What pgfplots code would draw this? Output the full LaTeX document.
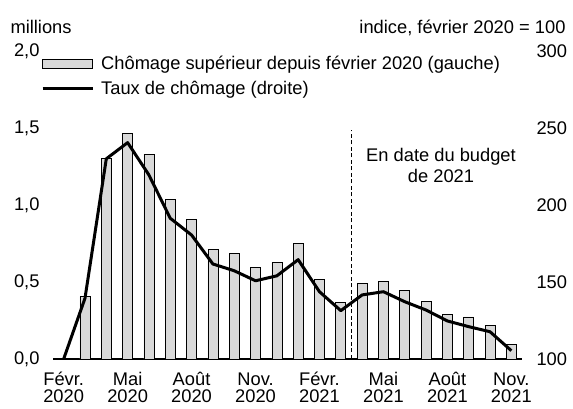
\documentclass[border=0pt]{standalone}
\usepackage{fontspec}
\setmainfont{Liberation Sans}
\usepackage{pgfplots}
\pgfplotsset{compat=1.18}
\definecolor{barfill}{RGB}{217,217,217}
\begin{document}
\begin{tikzpicture}[font=\fontsize{18.3bp}{21bp}\selectfont]
\begin{axis}[
  at={(0,0)}, anchor=south west, scale only axis,
  width=469bp, height=308bp,
  xmin=-0.5, xmax=21.5, ymin=0, ymax=2,
  clip=false,
  axis x line*=bottom, axis y line*=left,
  y axis line style={draw=none},
  x axis line style={line width=2.2bp, -},
  ytick={0,0.5,1,1.5,2}, ytick style={draw=none},
  yticklabel style={xshift=-10bp, /pgf/number format/.cd, use comma, fixed, fixed zerofill, precision=1, assume math mode=true},
  xtick={0,3,6,9,12,15,18,21},
  xticklabels={Févr.\strut\\[-3.5bp]2020, Mai\strut\\[-3.5bp]2020, Août\strut\\[-3.5bp]2020, Nov.\strut\\[-3.5bp]2020, Févr.\strut\\[-3.5bp]2021, Mai\strut\\[-3.5bp]2021, Août\strut\\[-3.5bp]2021, Nov.\strut\\[-3.5bp]2021},
  xtick style={draw=none},
  xticklabel style={align=center, anchor=north, yshift=-8bp},
  extra x ticks={-0.5,2.5,5.5,8.5,11.5,14.5,17.5,20.5},
  extra x tick labels={},
  extra x tick style={tick align=outside, major tick length=4bp, tick style={draw=black, line width=2bp}},
]
\addplot[ybar, bar width=10bp, bar shift=0pt, fill=barfill, draw=black, line width=0.6bp] coordinates {
 (1,0.405) (2,1.30) (3,1.466) (4,1.331) (5,1.037) (6,0.909) (7,0.71) (8,0.684)
 (9,0.593) (10,0.628) (11,0.751) (12,0.517) (13,0.368) (14,0.493) (15,0.506)
 (16,0.444) (17,0.375) (18,0.29) (19,0.273) (20,0.216) (21,0.095)
};
\draw[line width=1bp, dash pattern=on 4bp off 2.5bp] (axis cs:13.5,0) -- (axis cs:13.5,1.49);
\node[align=center] at (axis cs:17.7,1.26) {En date du budget\\de 2021};
\node[anchor=base west] at (rel axis cs:-0.0981,1.058) {millions};
\node[anchor=base east] at (rel axis cs:1.1002,1.058) {indice, février 2020 = 100};
\end{axis}
\begin{axis}[
  at={(0,0)}, anchor=south west, scale only axis,
  width=469bp, height=308bp,
  xmin=-0.5, xmax=21.5, ymin=100, ymax=300,
  axis x line=none, axis y line*=right,
  y axis line style={draw=none}, ytick style={draw=none},
  ytick={100,150,200,250,300},
  yticklabel style={anchor=west, xshift=11bp, /pgf/number format/assume math mode=true},
  legend cell align=left,
  legend style={draw=none, fill=none, inner sep=0pt, at={(-0.0256,0.9903)}, anchor=north west, row sep=6bp,
    nodes={inner xsep=7bp, inner ysep=2bp}},
]
\addlegendimage{legend image code/.code={\draw[fill=barfill, draw=black, line width=0.6bp] (0bp,-4.5bp) rectangle (50bp,4.5bp);}}
\addlegendentry{Chômage supérieur depuis février 2020 (gauche)}
\addplot[black, line width=3bp, line join=round, legend image code/.code={\draw[line width=3bp] (0bp,0bp) -- (50bp,0bp);}] coordinates {
 (0,100) (1,139.4) (2,230) (3,240.5) (4,219.5) (5,191.4) (6,180.5) (7,161.7)
 (8,157.3) (9,150.8) (10,154) (11,164.5) (12,143.7) (13,131.4) (14,141.6)
 (15,143.7) (16,137.2) (17,131.8) (18,124.7) (19,121) (20,117.7) (21,105.4)
};
\addlegendentry{Taux de chômage (droite)}
\end{axis}
\pgfresetboundingbox
\path (-53bp,-50bp) rectangle (520bp,359bp);
\end{tikzpicture}
\end{document}
